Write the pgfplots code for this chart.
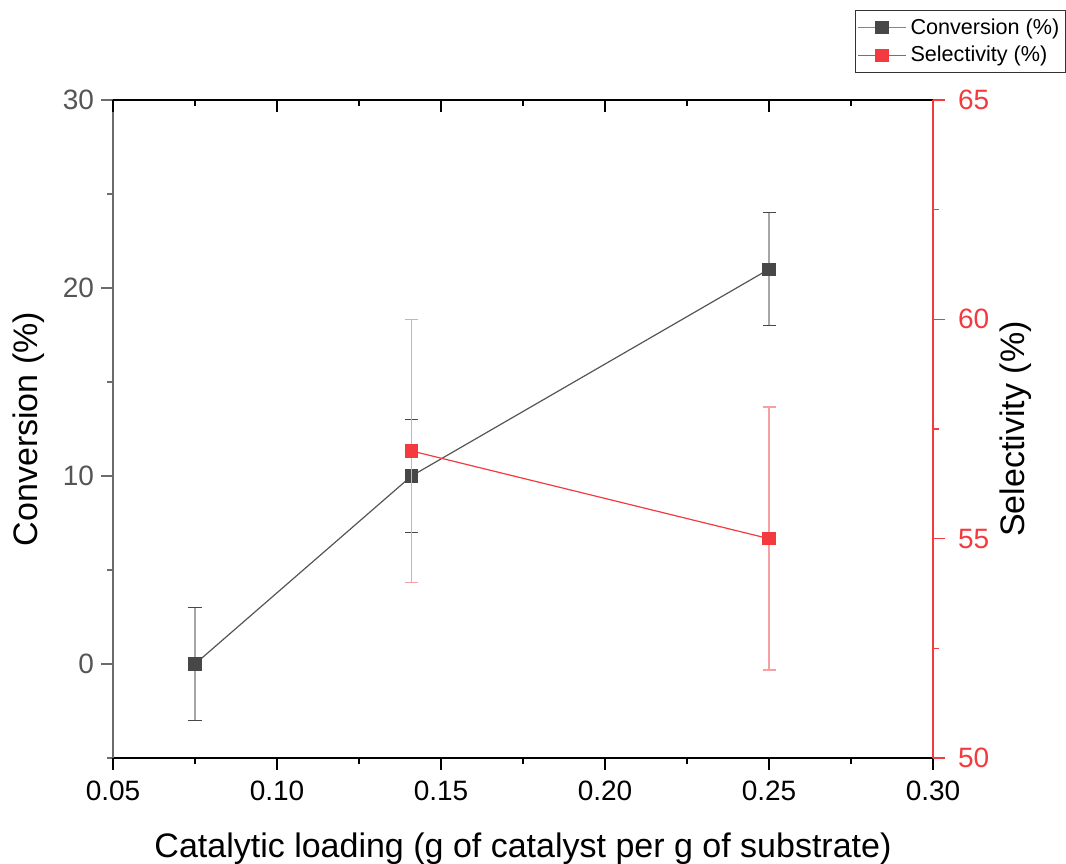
\documentclass[border=0pt]{standalone}
\usepackage{fontspec}
\setmainfont{Liberation Sans}
\usepackage{pgfplots}
\usepackage{pgfplotstable}
\pgfplotsset{compat=1.18}

\definecolor{convdark}{HTML}{474747}
\definecolor{convline}{HTML}{555555}
\definecolor{converr}{HTML}{A6A6A6}
\definecolor{selred}{HTML}{F23A3F}
\definecolor{selerr}{HTML}{F5A0A3}
\definecolor{leftaxis}{HTML}{6B6B6B}
\definecolor{ticklab}{HTML}{555555}

% loading (g/g), value (%), error (%)
\pgfplotstableread{
x      y   e
0.075  0   3
0.141  10  3
0.25   21  3
}\conversion
\pgfplotstableread{
x      y   e
0.141  57  3
0.25   55  3
}\selectivity

\pgfplotsset{
  common/.style={
    at={(56.5pt,52.5pt)}, anchor=south west,
    scale only axis, width=410pt, height=329pt,
    xmin=0.05, xmax=0.30,
    xtick={0.05,0.10,0.15,0.20,0.25,0.30},
    minor tick num=0,
    major tick length=6pt,
    axis line style={line width=0.8pt},
    every tick/.append style={line width=0.8pt},
    tick label style={font=\fontsize{14}{16}\selectfont},
    label style={font=\fontsize{17}{20}\selectfont},
    /pgf/number format/assume math mode=true,
    clip=false,
  },
  % short ticks between the labelled ones
  minorticks/.style={
    common,
    major tick length=3pt,
    xtick={0.075,0.125,0.175,0.225,0.275},
    xticklabels={}, yticklabels={},
    axis line style={draw=none},
  },
}

\begin{document}
\begin{tikzpicture}
\useasboundingbox (0,0) rectangle (533pt,431.5pt);

% short ticks: bottom and left (outward)
\begin{axis}[
  minorticks,
  axis x line*=bottom, axis y line*=left,
  tick align=outside,
  ymin=-5, ymax=30, ytick={-5,5,15,25},
  x tick style={draw=black},
  y tick style={draw=leftaxis},
]
\end{axis}

% short ticks: top (inward) and right (outward)
\begin{axis}[
  minorticks,
  axis x line*=top, axis y line*=right,
  xtick align=inside, ytick align=outside,
  ymin=50, ymax=65, ytick={52.5,57.5,62.5},
  x tick style={draw=black},
  y tick style={draw=selred},
]
\end{axis}

% left axis: conversion
\begin{axis}[
  common,
  axis x line*=bottom, axis y line*=left,
  tick align=outside,
  ymin=-5, ymax=30, ytick={0,10,20,30},
  xticklabels={0.05,0.10,0.15,0.20,0.25,0.30},
  xticklabel style={yshift=-2pt},
  x axis line style={draw=black},
  y axis line style={draw=leftaxis},
  x tick style={draw=black},
  y tick style={draw=leftaxis},
  yticklabel style={text=ticklab},
  xlabel={Catalytic loading (g of catalyst per g of substrate)},
  xlabel style={at={(axis description cs:0.5,-0.1505)}, anchor=base},
  ylabel={Conversion (\%)},
  ylabel style={at={(axis description cs:-0.1024,0.5)}, anchor=center},
]
\addplot[color=convline, line width=0.6pt,
  mark=square*, mark size=3pt,
  mark options={solid, fill=convdark, draw=convdark},
  error bars/.cd, y dir=both, y explicit,
  error bar style={converr, line width=0.8pt},
  error mark options={rotate=90, mark size=3.25pt, draw=convdark, line width=0.6pt}]
  table[x=x, y=y, y error=e] {\conversion};
\end{axis}

% right axis: selectivity
\begin{axis}[
  common,
  axis x line*=top, axis y line*=right,
  xtick align=inside, ytick align=outside,
  xticklabels={},
  ymin=50, ymax=65, ytick={50,55,60,65},
  x axis line style={draw=black},
  y axis line style={draw=selred},
  x tick style={draw=black},
  y tick style={draw=selred},
  yticklabel style={text=selred, xshift=3pt},
  ylabel={Selectivity (\%)},
  ylabel style={at={(axis description cs:1.101,0.5)}, anchor=center},
  legend cell align=left,
  legend image code/.code={
    \draw[mark repeat=2, mark phase=2, #1]
      plot coordinates {(0pt,0pt) (12pt,0pt) (24pt,0pt)};},
  legend style={at={(axis description cs:1.162,1.137)}, anchor=north east,
    draw=black!80, line width=0.5pt, fill=white,
    font=\fontsize{10.8}{13}\selectfont,
    inner xsep=1pt, inner ysep=2pt, row sep=0.5pt},
]
\addlegendimage{color=converr!80!black, line width=0.6pt,
  mark=square*, mark size=3pt, mark options={solid, fill=convdark, draw=convdark}}
\addlegendentry{Conversion (\%)}
\addplot[color=selred, line width=0.6pt,
  mark=square*, mark size=3pt,
  mark options={solid, fill=selred, draw=selred},
  error bars/.cd, y dir=both, y explicit,
  error bar style={selerr, line width=0.8pt},
  error mark options={rotate=90, mark size=3.25pt, draw=selerr, line width=0.8pt}]
  table[x=x, y=y, y error=e] {\selectivity};
\addlegendentry{Selectivity (\%)}
\end{axis}
\end{tikzpicture}
\end{document}
